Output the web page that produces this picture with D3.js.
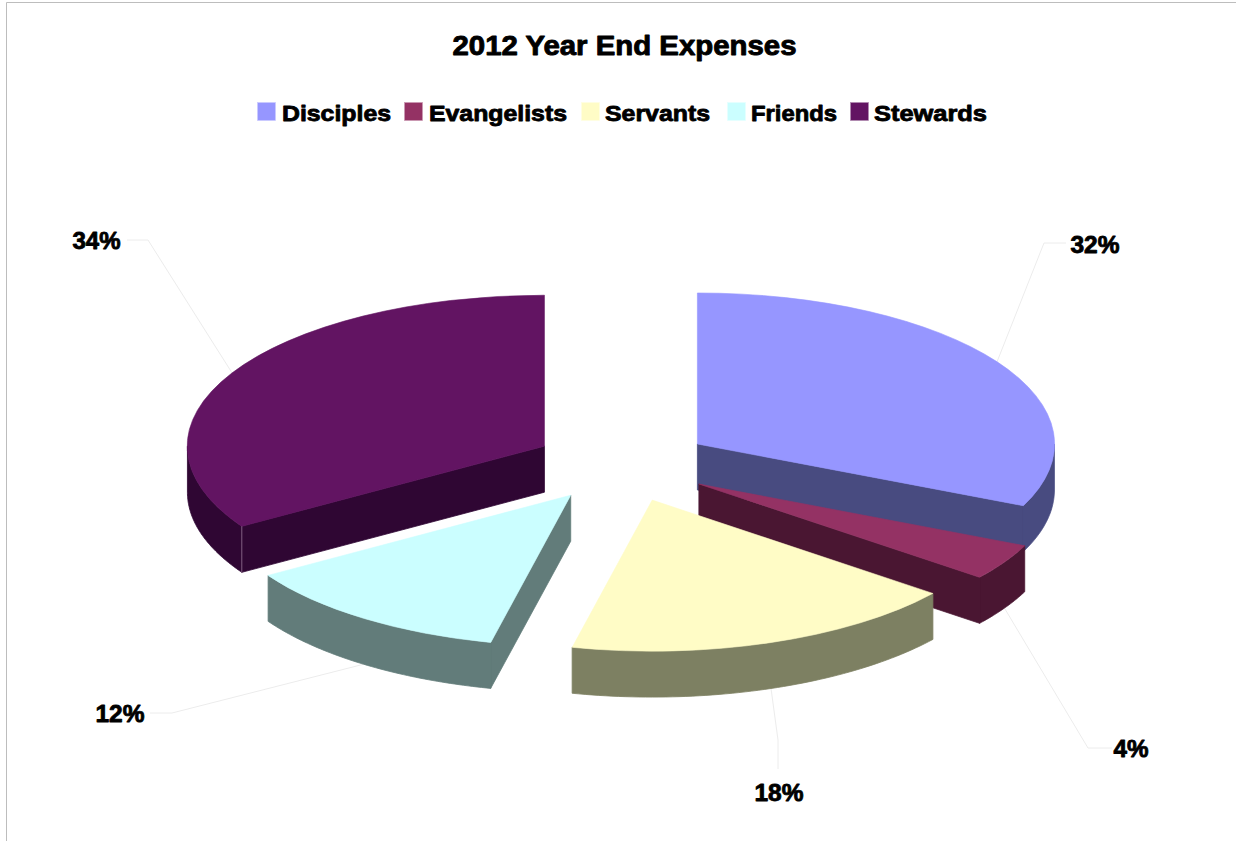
<!DOCTYPE html>
<html>
<head>
<meta charset="utf-8">
<title>2012 Year End Expenses</title>
<script src="https://cdnjs.cloudflare.com/ajax/libs/d3/7.8.5/d3.min.js"></script>
<style>
  body { margin: 0; background: #fff; }
  svg { display: block; }
  text { font-family: "Liberation Sans", Arial, sans-serif; font-weight: bold; fill: #000; stroke: #000; stroke-linejoin: round; }
</style>
</head>
<body>
<div id="chart"></div>
<script>
// values
var categories = ["Disciples", "Evangelists", "Servants", "Friends", "Stewards"];
var shares = [31.7, 3.9, 18.0, 12.5, 33.9];
var shareLabels = ["32%", "4%", "18%", "12%", "34%"];
var topColors = ["#9696ff", "#943264", "#fffcc6", "#cbfeff", "#621462"];
var sideColors = ["#484b80", "#4a1632", "#7d8062", "#627c7a", "#2f0633"];

var width = 1236, height = 841;

var pie3d = {
  cx: 622.5,
  cy: 464.5,
  rx: 357,
  ry: 151,
  depth: 46,
  explode: 0.25,
  draw_order: [4, 0, 3, 1, 2]  // back to front
};

// legend swatch left edge, text left edge, text width
var legend_layout = [
  { swatch: 257, text: 282, w: 109 },
  { swatch: 404, text: 429, w: 138 },
  { swatch: 581, text: 605, w: 105 },
  { swatch: 727, text: 751, w: 86 },
  { swatch: 850, text: 874, w: 113 }
];

// elbow of the leader line, its end next to the text, centre of the text
var label_layout = [
  { elbow: [1044, 243], end: [1066, 243], x: 1095, y: 253, w: 49 },
  { elbow: [1088, 748], end: [1112, 748], x: 1131, y: 757, w: 35 },
  { elbow: [778, 740], end: [778, 769], x: 779, y: 801, w: 49 },
  { elbow: [172, 713], end: [150, 713], x: 120, y: 722, w: 49 },
  { elbow: [148, 240], end: [127, 240], x: 96.5, y: 249, w: 48 }
];

var svg = d3.select("#chart").append("svg")
  .attr("width", width)
  .attr("height", height);

// frame, only top and left are visible
svg.append("path")
  .attr("d", "M6.5," + height + "V2.5H" + width)
  .attr("fill", "none")
  .attr("stroke", "#bdbdbd");

svg.append("text")
  .attr("x", 624.5)
  .attr("y", 55)
  .attr("text-anchor", "middle")
  .attr("font-size", 27)
  .attr("stroke-width", 0.9)
  .attr("textLength", 344)
  .attr("lengthAdjust", "spacingAndGlyphs")
  .text("2012 Year End Expenses");

// Legend
var legend = svg.append("g").attr("class", "legend");
categories.forEach(function(name, i){
  legend.append("rect")
    .attr("x", legend_layout[i].swatch + 0.5)
    .attr("y", 102.5)
    .attr("width", 18)
    .attr("height", 18)
    .attr("fill", topColors[i])
    .attr("stroke", d3.interpolateRgb(topColors[i], "#fff")(0.5))
    .attr("stroke-width", 0.7);
  legend.append("text")
    .attr("x", legend_layout[i].text)
    .attr("y", 120.5)
    .attr("font-size", 22.5)
    .attr("stroke-width", 0.85)
    .attr("textLength", legend_layout[i].w)
    .attr("lengthAdjust", "spacingAndGlyphs")
    .text(name);
});

/* Pie */
var slices = d3.pie().sort(null).startAngle(0).endAngle(2 * Math.PI)(shares);

var x_scale = d3.scaleLinear().domain([-1, 1]).range([-pie3d.rx, pie3d.rx]);
var y_scale = d3.scaleLinear().domain([-1, 1]).range([-pie3d.ry, pie3d.ry]);

function mid_angle(d){ return (d.startAngle + d.endAngle) / 2; }

// Each slice moves along its own bisector
function slice_centre(d){
  var a = mid_angle(d);
  return [
    pie3d.cx + x_scale(Math.sin(a)) * pie3d.explode,
    pie3d.cy + y_scale(-Math.cos(a)) * pie3d.explode
  ];
}

function rim_point(c, a){
  return [c[0] + x_scale(Math.sin(a)), c[1] + y_scale(-Math.cos(a))];
}

var wall = d3.area()
  .x(function(p){ return p[0]; })
  .y0(function(p){ return p[1]; })
  .y1(function(p){ return p[1] + pie3d.depth; });

var top_arc = d3.arc().innerRadius(0).outerRadius(1);

/* Leader lines go under the slices */
var leaders = svg.append("g").attr("class", "leaders");
var line = d3.line();
slices.forEach(function(d, i){
  var a = mid_angle(d);
  var from = rim_point(slice_centre(d), a);
  if (Math.cos(a) < 0) from[1] += pie3d.depth;  // front slices: from the wall bottom
  leaders.append("path")
    .attr("d", line([from, label_layout[i].elbow, label_layout[i].end]))
    .attr("fill", "none")
    .attr("stroke", "#ececec")
    .attr("stroke-width", 1);
});

var pie_g = svg.append("g").attr("class", "pie");

pie3d.draw_order.forEach(function(i){
  var d = slices[i];
  var c = slice_centre(d);
  var g = pie_g.append("g").attr("class", "slice " + categories[i]);

  // Walls in one path: cut faces and outer face, only what is turned to the viewer
  var wall_d = "";
  if (Math.sin(d.startAngle) < -1e-6) wall_d += wall([c, rim_point(c, d.startAngle)]);
  if (Math.sin(d.endAngle) > 1e-6) wall_d += wall([c, rim_point(c, d.endAngle)]);

  var a0 = Math.max(d.startAngle, Math.PI / 2);
  var a1 = Math.min(d.endAngle, 3 * Math.PI / 2);
  if (a1 > a0) {
    wall_d += wall(d3.range(0, 61).map(function(k){
      return rim_point(c, a0 + (a1 - a0) * k / 60);
    }));
  }

  if (wall_d) {
    g.append("path")
      .attr("d", wall_d)
      .attr("fill", sideColors[i])
      .attr("stroke", sideColors[i])
      .attr("stroke-width", 0.8);
  }

  // Top surface, stroked so the wall edges do not show around it
  g.append("path")
    .attr("d", top_arc({ startAngle: d.startAngle, endAngle: d.endAngle }))
    .attr("transform", "translate(" + c[0] + "," + c[1] + ") scale(" + pie3d.rx + "," + pie3d.ry + ")")
    .attr("fill", topColors[i])
    .attr("stroke", topColors[i])
    .attr("stroke-width", 0.6)
    .attr("vector-effect", "non-scaling-stroke");

  // The light corner line on the big back slice
  if (i == 4) {
    var corner = rim_point(c, d.startAngle);
    g.append("path")
      .attr("d", line([corner, [corner[0], corner[1] + pie3d.depth]]))
      .attr("stroke", "#a98aa8")
      .attr("stroke-width", 0.7);
  }
});

// Data labels
categories.forEach(function(name, i){
  svg.append("text")
    .attr("class", "data_label")
    .attr("x", label_layout[i].x)
    .attr("y", label_layout[i].y)
    .attr("text-anchor", "middle")
    .attr("font-size", 24)
    .attr("stroke-width", 0.85)
    .attr("textLength", label_layout[i].w)
    .attr("lengthAdjust", "spacingAndGlyphs")
    .text(shareLabels[i]);
});
</script>
</body>
</html>
